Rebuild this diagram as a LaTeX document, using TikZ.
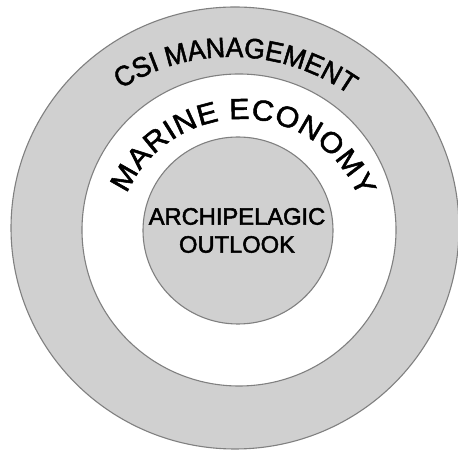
\documentclass[tikz,border=0pt]{standalone}
\usepackage{fontspec}
\usetikzlibrary{decorations.text,shapes.geometric}
\newfontfamily\csifont[FakeStretch=0.95,FakeBold=1.8]{Liberation Sans}
\newfontfamily\marfont[FakeStretch=1.05,FakeBold=1.8]{Liberation Sans}
\newfontfamily\corefont[FakeBold=2.2]{Liberation Sans}
\definecolor{ringgray}{RGB}{208,208,208}
\definecolor{edgegray}{RGB}{128,128,128}
\tikzset{
  ring/.style={draw=edgegray, line width=1.1pt},
  arctext/.style={decorate, decoration={text along path, text align=fit to path}}
}
\begin{document}
\begin{tikzpicture}[x=1pt,y=1pt]
\useasboundingbox (0,0) rectangle (458,452);
\clip (0,0) rectangle (458,452);
\fill[white] (0,0) rectangle (458,452);
% rings
\draw[ring, fill=ringgray] (235,224) ellipse[x radius=224pt, y radius=221pt];
\draw[ring, fill=white] (239,222) ellipse[x radius=157pt, y radius=156pt];
\node[ring, fill=ringgray, ellipse, minimum width=190pt, minimum height=187pt, inner sep=0pt] (core) at (238,221.5) {};
% labels
\node[font=\corefont\fontsize{23.7}{28}\selectfont, align=center, inner sep=0pt] (coretext) at (237,221.5) {ARCHIPELAGIC\\OUTLOOK};
\coordinate (csic) at (231,190);
\path[arctext, decoration={text={|\csifont\fontsize{28}{30}\selectfont|CSI MANAGEMENT}}]
  (csic) ++(122.5:205pt) arc[start angle=122.5, end angle=57, radius=205pt];
\coordinate (marc) at (242,207);
\path[arctext, decoration={text={|\marfont\fontsize{29}{30}\selectfont|MARINE ECONOMY}}]
  (marc) ++(156:126pt) arc[start angle=156, end angle=22, radius=126pt];
\end{tikzpicture}
\end{document}
